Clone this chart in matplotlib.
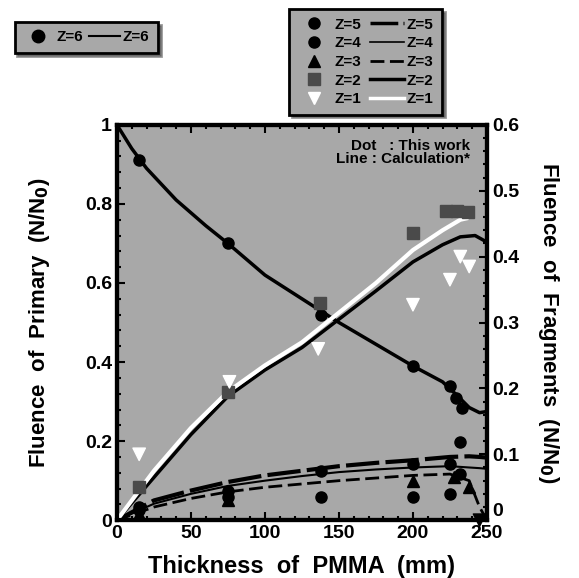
import numpy as np
import matplotlib
matplotlib.use("Agg")
import matplotlib.pyplot as plt
from matplotlib.lines import Line2D
from matplotlib.ticker import MultipleLocator

plt.rcParams["font.family"] = ["Liberation Sans", "DejaVu Sans"]
plt.rcParams["font.weight"] = "bold"

# primary beam (left axis)
z6_x = [15, 75, 138, 200, 225, 229, 233]
z6_y = [0.91, 0.70, 0.52, 0.39, 0.34, 0.31, 0.285]
z6_line_x = [0, 10, 20, 40, 60, 75, 100, 125, 150, 175, 200, 220, 230, 238, 245, 250]
z6_line_y = [1.0, 0.94, 0.89, 0.81, 0.745, 0.70, 0.62, 0.56, 0.50, 0.445, 0.39, 0.35, 0.315, 0.285, 0.272, 0.275]

# fragments (right axis)
z5_x = [15, 75, 138, 200, 225, 232]
z5_y = [0.02, 0.045, 0.075, 0.085, 0.085, 0.118]
z4_x = [15, 75, 138, 200, 225, 232]
z4_y = [0.015, 0.035, 0.035, 0.035, 0.04, 0.07]
z3_x = [15, 75, 200, 228, 238]
z3_y = [0.01, 0.03, 0.06, 0.065, 0.05]
z2_x = [15, 75, 137, 200, 222, 230, 237]
z2_y = [0.05, 0.195, 0.33, 0.436, 0.47, 0.47, 0.468]
z1_x = [15, 76, 136, 200, 225, 232, 238, 245]
z1_y = [0.10, 0.21, 0.26, 0.327, 0.365, 0.40, 0.385, 0.0]
z1_colors = ["white"] * 7 + ["black"]

line_x = [0, 25, 50, 75, 100, 125, 150, 175, 200, 225, 238, 245, 250]
z5_line = [0, 0.03, 0.045, 0.058, 0.068, 0.075, 0.082, 0.087, 0.091, 0.096, 0.097, 0.096, 0.095]
z4_line = [0, 0.025, 0.04, 0.052, 0.06, 0.067, 0.073, 0.077, 0.08, 0.082, 0.08, 0.079, 0.078]
z3_line = [0, 0.02, 0.033, 0.043, 0.05, 0.055, 0.06, 0.064, 0.068, 0.07, 0.06, 0.02, 0.0]
z2_line_x = [0, 25, 50, 75, 100, 125, 150, 175, 200, 220, 232, 242, 250]
z2_line = [0, 0.065, 0.13, 0.188, 0.228, 0.262, 0.305, 0.348, 0.392, 0.418, 0.43, 0.432, 0.422]
z1_line_x = [0, 25, 50, 75, 100, 125, 150, 175, 200, 220, 232, 236]
z1_line = [0, 0.075, 0.14, 0.195, 0.235, 0.27, 0.315, 0.36, 0.41, 0.44, 0.456, 0.458]

bg = "#a8a8a8"
fig = plt.figure(figsize=(5.79, 5.78), dpi=100)
ax = fig.add_axes([0.202, 0.100, 0.639, 0.684])
ax.set_facecolor(bg)
ax2 = ax.twinx()

ax.plot(z6_line_x, z6_line_y, color="black", lw=2.5, zorder=3)
ax.plot(z6_x, z6_y, "o", color="black", ms=8, zorder=4)

ax2.plot(line_x, z5_line, color="black", lw=3, dashes=(8, 1.5))
ax2.plot(line_x, z4_line, color="black", lw=1.5)
ax2.plot(line_x, z3_line, color="black", lw=2, dashes=(5, 2))
ax2.plot(z2_line_x, z2_line, color="black", lw=2.5)
ax2.plot(z1_line_x, z1_line, color="white", lw=3)
ax2.plot(z5_x, z5_y, "o", color="black", ms=8)
ax2.plot(z4_x, z4_y, "o", color="black", ms=8)
ax2.plot(z3_x, z3_y, "^", color="black", ms=8)
ax2.plot(z2_x, z2_y, "s", color="#4a4a4a", ms=9)
ax2.scatter(z1_x, z1_y, marker="v", c=z1_colors, s=80, zorder=5, clip_on=False)

ax.set_xlim(0, 250)
ax.set_ylim(0, 1)
ax2.set_ylim(0, 0.6)
ax.set_xticks([0, 50, 100, 150, 200, 250])
ax.set_yticks([0, 0.2, 0.4, 0.6, 0.8, 1])
ax.set_yticklabels(["0", "0.2", "0.4", "0.6", "0.8", "1"])
ax2.set_yticks([0, 0.1, 0.2, 0.3, 0.4, 0.5, 0.6])
ax2.set_yticklabels(["0", "0.1", "0.2", "0.3", "0.4", "0.5", "0.6"])
ax2.get_yticklabels()[0].set_va("bottom")
ax.xaxis.set_minor_locator(MultipleLocator(10))
ax.yaxis.set_minor_locator(MultipleLocator(0.04))
ax2.yaxis.set_minor_locator(MultipleLocator(0.02))
ax.tick_params(direction="in", top=True, length=6, width=1.5, labelsize=14)
ax.tick_params(which="minor", direction="in", top=True, length=3, width=1.5)
ax2.tick_params(direction="in", length=6, width=1.5, labelsize=14)
ax2.tick_params(which="minor", direction="in", length=3, width=1.5)
for s in ax.spines.values():
    s.set_linewidth(3)
for s in ax2.spines.values():
    s.set_linewidth(3)

ax.set_xlabel("Thickness  of  PMMA  (mm)", fontsize=17, fontweight="bold", labelpad=9)
ax.set_ylabel("Fluence  of  Primary  (N/N$_\\mathbf{0}$)", fontsize=16, fontweight="bold", labelpad=24)
ax2.set_ylabel("Fluence  of  Fragments  (N/N$_\\mathbf{0}$)", fontsize=16, fontweight="bold",
               rotation=-90, labelpad=30)

ax.text(0.955, 0.965, "Dot   : This work\nLine : Calculation*", transform=ax.transAxes,
        ha="right", va="top", fontsize=11, fontweight="bold", linespacing=0.95)

h_left = [Line2D([], [], marker="o", ls="none", color="black", ms=9),
          Line2D([], [], color="black", lw=1.5)]
leg1 = fig.legend(h_left, ["Z=6", "Z=6"], ncol=2, loc="upper left",
                  bbox_to_anchor=(0.012, 0.975), frameon=True, shadow=True,
                  fontsize=11, handlelength=2.0, columnspacing=0.4,
                  handletextpad=0.2, borderpad=0.55, fancybox=False)
leg1.get_frame().set_facecolor(bg)
leg1.get_frame().set_edgecolor("black")
leg1.get_frame().set_linewidth(2)

h_dots = [Line2D([], [], marker="o", ls="none", color="black", ms=8),
          Line2D([], [], marker="o", ls="none", color="black", ms=8),
          Line2D([], [], marker="^", ls="none", color="black", ms=8),
          Line2D([], [], marker="s", ls="none", color="#4a4a4a", ms=8),
          Line2D([], [], marker="v", ls="none", color="white", ms=8)]
h_lines = [Line2D([], [], color="black", lw=2.5, dashes=(8, 1.5)),
           Line2D([], [], color="black", lw=1.2),
           Line2D([], [], color="black", lw=2, dashes=(5, 2)),
           Line2D([], [], color="black", lw=2.5),
           Line2D([], [], color="white", lw=2.5)]
labels = ["Z=5", "Z=4", "Z=3", "Z=2", "Z=1"]
leg2 = fig.legend(h_dots + h_lines, labels + labels, ncol=2, loc="upper left",
                  bbox_to_anchor=(0.486, 0.997), frameon=True, shadow=True,
                  fontsize=11, handlelength=2.2, columnspacing=0.6,
                  handletextpad=0.2, borderpad=0.55, labelspacing=0.3, fancybox=False)
leg2.get_frame().set_facecolor(bg)
leg2.get_frame().set_edgecolor("black")
leg2.get_frame().set_linewidth(2)

fig.savefig("out.png", dpi=100)
